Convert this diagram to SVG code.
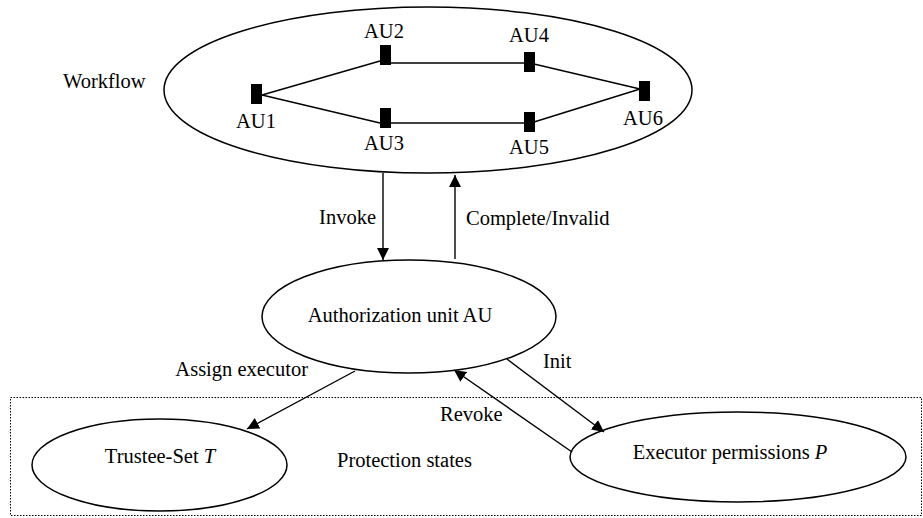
<svg xmlns="http://www.w3.org/2000/svg" width="923" height="518" viewBox="0 0 923 518">
  <style>
    .shape { fill: none; stroke: #000; stroke-width: 1.5; }
    .box { fill: #000; stroke: none; }
    .edge { fill: none; stroke: #000; stroke-width: 1.4; }
    .link { fill: none; stroke: #000; stroke-width: 1.4; marker-end: url(#arrow); }
    .zone { fill: none; stroke: #000; stroke-width: 1; stroke-dasharray: 1.5 1.5; }
    text { font-family: "Liberation Serif", "Times New Roman", serif; font-size: 20.5px; fill: #000; }
    .mid { text-anchor: middle; }
    .end { text-anchor: end; }
  </style>
  <defs>
    <marker id="arrow" markerUnits="userSpaceOnUse" markerWidth="13" markerHeight="12" refX="12" refY="6" orient="auto">
      <path d="M0,0 L12,6 L0,12 z" fill="#000"/>
    </marker>
  </defs>

  <!-- protection states region -->
  <rect class="zone" x="10.5" y="397.5" width="911" height="118"/>
  <text x="337" y="467">Protection states</text>

  <!-- workflow container with its authorization units -->
  <g id="workflow">
    <ellipse class="shape" cx="428" cy="90" rx="264" ry="83"/>
    <text x="63" y="88">Workflow</text>
    <g id="workflow-edges">
      <line class="edge" x1="262" y1="95" x2="380" y2="61"/>
      <line class="edge" x1="262" y1="95" x2="380" y2="123"/>
      <line class="edge" x1="390" y1="63" x2="524" y2="63"/>
      <line class="edge" x1="390" y1="123" x2="524" y2="123"/>
      <line class="edge" x1="534" y1="64" x2="640" y2="89"/>
      <line class="edge" x1="534" y1="122" x2="640" y2="89"/>
    </g>
    <g id="au1"><rect class="box" x="251" y="84" width="11" height="20"/><text class="mid" x="256" y="128">AU1</text></g>
    <g id="au2"><rect class="box" x="380" y="45" width="11" height="20"/><text class="mid" x="384" y="38">AU2</text></g>
    <g id="au3"><rect class="box" x="380" y="108" width="11" height="20"/><text class="mid" x="384" y="150">AU3</text></g>
    <g id="au4"><rect class="box" x="524" y="52" width="11" height="20"/><text class="mid" x="529" y="42">AU4</text></g>
    <g id="au5"><rect class="box" x="524" y="112" width="11" height="20"/><text class="mid" x="529" y="154">AU5</text></g>
    <g id="au6"><rect class="box" x="639" y="81" width="11" height="20"/><text class="mid" x="643" y="125">AU6</text></g>
  </g>

  <g id="authorization-unit">
    <ellipse class="shape" cx="409" cy="316.5" rx="147" ry="56.5"/>
    <text class="mid" x="400" y="322">Authorization unit AU</text>
  </g>

  <g id="trustee-set">
    <ellipse class="shape" cx="159.5" cy="465" rx="127.5" ry="46"/>
    <text class="mid" x="160" y="463">Trustee-Set <tspan font-style="italic">T</tspan></text>
  </g>

  <g id="executor-permissions">
    <ellipse class="shape" cx="738" cy="457" rx="168" ry="45"/>
    <text class="mid" x="730" y="459">Executor permissions <tspan font-style="italic">P</tspan></text>
  </g>

  <!-- connectors -->
  <g id="connectors">
    <line class="link" x1="383" y1="173" x2="383" y2="260"/>
    <line class="link" x1="455" y1="259" x2="455" y2="175"/>
    <line class="link" x1="355" y1="371" x2="247" y2="429"/>
    <line class="link" x1="507" y1="359" x2="604" y2="432"/>
    <line class="link" x1="572" y1="452" x2="454" y2="370"/>
    <text class="end" x="376" y="224">Invoke</text>
    <text x="466" y="225">Complete/Invalid</text>
    <text class="end" x="308" y="376">Assign executor</text>
    <text x="543" y="368">Init</text>
    <text x="440" y="421">Revoke</text>
  </g>
</svg>
